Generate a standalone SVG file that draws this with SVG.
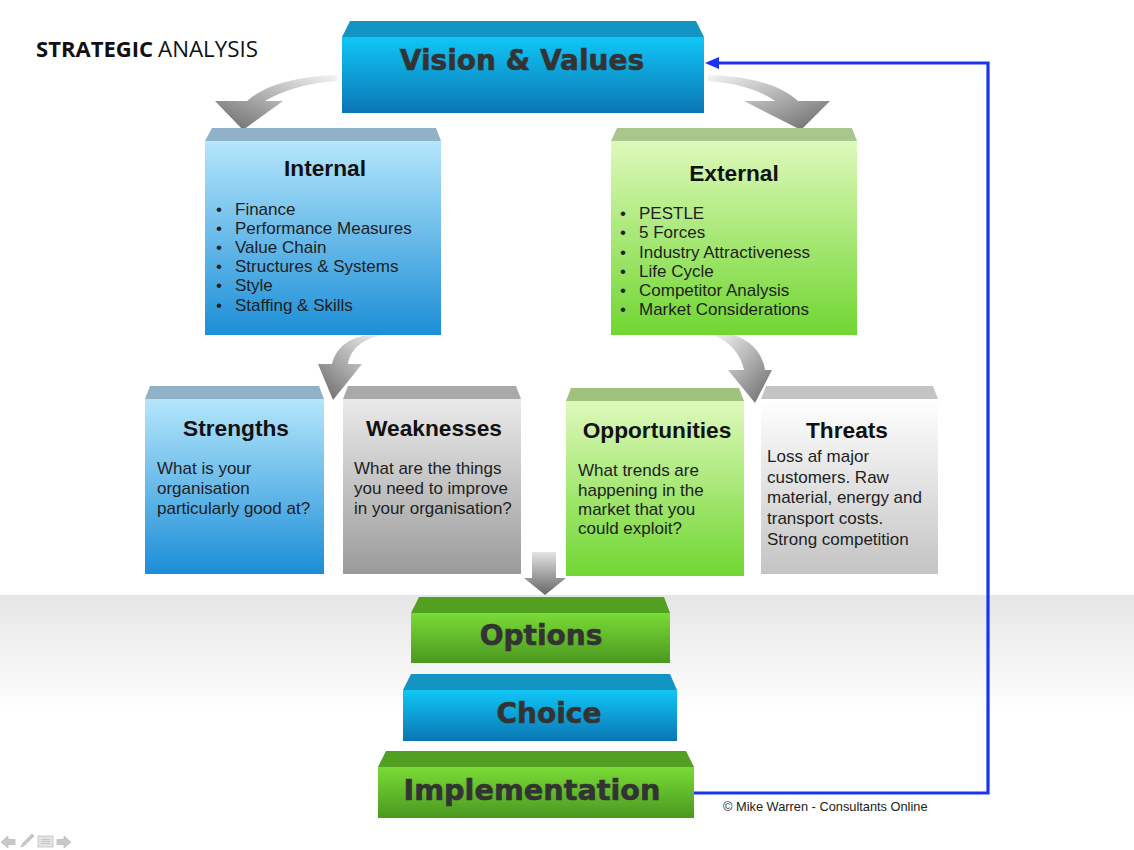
<svg xmlns="http://www.w3.org/2000/svg" width="1134" height="850" viewBox="0 0 1134 850">
<defs>
<linearGradient id="gBand" x1="0" y1="0" x2="0" y2="1"><stop offset="0" stop-color="#e6e6e6"/><stop offset="1" stop-color="#ffffff"/></linearGradient>
<linearGradient id="gBlue3d" x1="0" y1="0" x2="0" y2="1"><stop offset="0" stop-color="#10c6f6"/><stop offset="1" stop-color="#0a76b3"/></linearGradient>
<linearGradient id="gGreen3d" x1="0" y1="0" x2="0" y2="1"><stop offset="0" stop-color="#7adb36"/><stop offset="1" stop-color="#4a9820"/></linearGradient>
<linearGradient id="gInt" x1="0" y1="0" x2="0" y2="1"><stop offset="0" stop-color="#b5e6fc"/><stop offset="1" stop-color="#1c8ed7"/></linearGradient>
<linearGradient id="gExt" x1="0" y1="0" x2="0" y2="1"><stop offset="0" stop-color="#def9bb"/><stop offset="1" stop-color="#70d631"/></linearGradient>
<linearGradient id="gGray" x1="0" y1="0" x2="0" y2="1"><stop offset="0" stop-color="#eaeaea"/><stop offset="1" stop-color="#9b9b9b"/></linearGradient>
<linearGradient id="gWhite" x1="0" y1="0" x2="0" y2="1"><stop offset="0" stop-color="#ffffff"/><stop offset="1" stop-color="#c4c4c4"/></linearGradient>
<linearGradient id="gArrL" x1="1" y1="0" x2="0" y2="1"><stop offset="0" stop-color="#f4f4f4"/><stop offset="0.55" stop-color="#a8a8a8"/><stop offset="1" stop-color="#666666"/></linearGradient>
<linearGradient id="gArrR" x1="0" y1="0" x2="1" y2="1"><stop offset="0" stop-color="#f4f4f4"/><stop offset="0.55" stop-color="#a8a8a8"/><stop offset="1" stop-color="#666666"/></linearGradient>
<linearGradient id="gArrD" x1="0" y1="0" x2="0" y2="1"><stop offset="0" stop-color="#e4e4e4"/><stop offset="1" stop-color="#666666"/></linearGradient>
</defs>
<style>
.bar{font-family:"DejaVu Sans",Verdana,sans-serif;font-weight:bold;font-size:28px;fill:#333;stroke:#333;stroke-width:0.6;text-anchor:middle}
.ttl{font-family:"Liberation Sans",Arial,sans-serif;font-weight:bold;font-size:22.7px;fill:#111;text-anchor:middle}
.body{font-family:"Liberation Sans",Arial,sans-serif;font-size:17px;fill:#1e1e1e}
.copy{font-family:"Liberation Sans",Arial,sans-serif;font-size:12.8px;fill:#222}
.head{font-family:"Open Sans","Liberation Sans",sans-serif;font-size:22px;fill:#111}
.conn{fill:none;stroke:#1a33f2;stroke-width:3.2}
</style>
<rect x="0" y="0" width="1134" height="850" fill="#ffffff"/>
<rect x="0" y="595" width="1134" height="120" fill="url(#gBand)"/>

<g id="title">
<text class="head" x="36" y="57" font-weight="bold" textLength="117" lengthAdjust="spacingAndGlyphs">STRATEGIC</text>
<text class="head" x="158" y="57" textLength="100" lengthAdjust="spacingAndGlyphs">ANALYSIS</text>
</g>

<g id="connectors">
<path d="M337,75 C300,76 266,84 247,101 L215,101 L243,130 L283,101 L265,101 C282,91 306,83 337,81 Z" fill="url(#gArrL)"/>
<path d="M708,75 C748,76 779,84 798,101 L830,101 L801,130 L744,101 L775,101 C760,90 736,83 708,81 Z" fill="url(#gArrR)"/>
<path d="M385,335 C362,338 350,350 348,364 L362,364 L333,400 L318,364 L332,364 C336,347 350,337 370,335 Z" fill="url(#gArrL)"/>
<path d="M713,335 L733,335 C752,340 763,355 765,370 L772,370 L755,403 L728,370 L744,370 C741,355 731,342 713,335 Z" fill="url(#gArrR)"/>
<path d="M532,552 L556,552 L556,578 L566,578 L545,595 L524,578 L532,578 Z" fill="url(#gArrD)"/>
<path class="conn" d="M694,793 L988,793 L988,63 L716,63"/>
<polygon points="705,63 719,57 719,69" fill="#1a33f2"/>
</g>

<g id="vision">
<polygon points="350,21 696,21 704,37 342,37" fill="#1395c3"/>
<rect x="342" y="37" width="362" height="76" fill="url(#gBlue3d)"/>
<text class="bar" x="522" y="70">Vision &amp; Values</text>
</g>

<g id="internal">
<polygon points="212,128 436,128 441,141 205,141" fill="#8fb2c9"/>
<rect x="205" y="141" width="236" height="194" fill="url(#gInt)"/>
<text class="ttl" x="325" y="176">Internal</text>
<g class="body">
<text x="216" y="215">•</text><text x="235" y="215">Finance</text>
<text x="216" y="234">•</text><text x="235" y="234">Performance Measures</text>
<text x="216" y="253">•</text><text x="235" y="253">Value Chain</text>
<text x="216" y="272">•</text><text x="235" y="272">Structures &amp; Systems</text>
<text x="216" y="291">•</text><text x="235" y="291">Style</text>
<text x="216" y="311">•</text><text x="235" y="311">Staffing &amp; Skills</text>
</g>
</g>

<g id="external">
<polygon points="617,128 852,128 857,141 611,141" fill="#a9c68c"/>
<rect x="611" y="141" width="246" height="194" fill="url(#gExt)"/>
<text class="ttl" x="734" y="181">External</text>
<g class="body">
<text x="620" y="219">•</text><text x="639" y="219">PESTLE</text>
<text x="620" y="238">•</text><text x="639" y="238">5 Forces</text>
<text x="620" y="258">•</text><text x="639" y="258">Industry Attractiveness</text>
<text x="620" y="277">•</text><text x="639" y="277">Life Cycle</text>
<text x="620" y="296">•</text><text x="639" y="296">Competitor Analysis</text>
<text x="620" y="315">•</text><text x="639" y="315">Market Considerations</text>
</g>
</g>

<g id="strengths">
<polygon points="150,386 319,386 324,399 145,399" fill="#8fb2c9"/>
<rect x="145" y="399" width="179" height="175" fill="url(#gInt)"/>
<text class="ttl" x="236" y="436">Strengths</text>
<g class="body"><text x="157" y="474">What is your</text><text x="157" y="494">organisation</text><text x="157" y="514">particularly good at?</text></g>
</g>

<g id="weaknesses">
<polygon points="348,386 516,386 521,399 343,399" fill="#a9a9a9"/>
<rect x="343" y="399" width="178" height="175" fill="url(#gGray)"/>
<text class="ttl" x="434" y="436">Weaknesses</text>
<g class="body"><text x="354" y="474">What are the things</text><text x="354" y="494">you need to improve</text><text x="354" y="514">in your organisation?</text></g>
</g>

<g id="opportunities">
<polygon points="571,388 739,388 744,401 566,401" fill="#9fc27c"/>
<rect x="566" y="401" width="178" height="175" fill="url(#gExt)"/>
<text class="ttl" x="657" y="438">Opportunities</text>
<g class="body"><text x="578" y="476">What trends are</text><text x="578" y="496">happening in the</text><text x="578" y="515">market that you</text><text x="578" y="534">could exploit?</text></g>
</g>

<g id="threats">
<polygon points="766,386 933,386 938,399 761,399" fill="#c4c4c4"/>
<rect x="761" y="399" width="177" height="175" fill="url(#gWhite)"/>
<text class="ttl" x="847" y="438">Threats</text>
<g class="body"><text x="767" y="462">Loss af major</text><text x="767" y="483">customers. Raw</text><text x="767" y="503">material, energy and</text><text x="767" y="524">transport costs.</text><text x="767" y="545">Strong competition</text></g>
</g>

<g id="options">
<polygon points="419,597 664,597 670,613 411,613" fill="#52a021"/>
<rect x="411" y="613" width="259" height="50" fill="url(#gGreen3d)"/>
<text class="bar" x="541" y="645">Options</text>
</g>

<g id="choice">
<polygon points="411,674 670,674 677,690 403,690" fill="#1395c3"/>
<rect x="403" y="690" width="274" height="51" fill="url(#gBlue3d)"/>
<text class="bar" x="549" y="723">Choice</text>
</g>

<g id="implementation">
<polygon points="386,751 686,751 694,767 378,767" fill="#52a021"/>
<rect x="378" y="767" width="316" height="51" fill="url(#gGreen3d)"/>
<text class="bar" x="532" y="800" textLength="257" lengthAdjust="spacingAndGlyphs">Implementation</text>
</g>

<text class="copy" x="723" y="811">© Mike Warren - Consultants Online</text>

<g id="controls" fill="#c8c8c8" stroke="#b0b0b0" stroke-width="0.6">
<path d="M1,842 L8,836 L8,839.5 L15,839.5 L15,844.5 L8,844.5 L8,848 Z"/>
<path d="M21,847 L23,843 L32,834 L34,836 L25,845 Z"/>
<rect x="38" y="836" width="15" height="11" fill="#e4e4e4"/>
<path d="M41,839.5 H50 M41,841.5 H50 M41,843.5 H50" fill="none"/>
<path d="M71,842 L64,836 L64,839.5 L57,839.5 L57,844.5 L64,844.5 L64,848 Z"/>
</g>
</svg>
